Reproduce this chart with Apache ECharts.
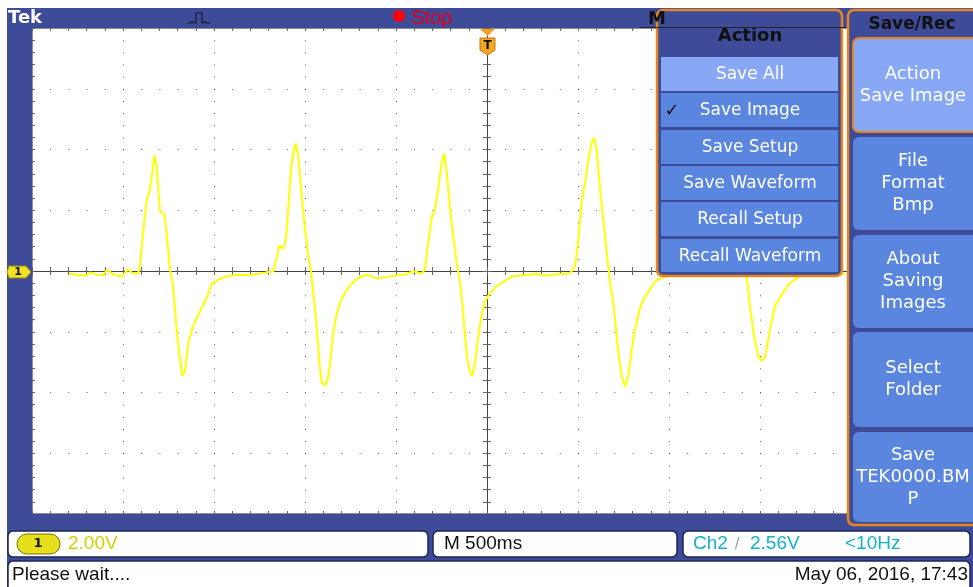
<!DOCTYPE html>
<html>
<head>
<meta charset="utf-8">
<script src="https://cdn.jsdelivr.net/npm/echarts@6/dist/echarts.min.js"></script>
<style>
  html, body { margin: 0; padding: 0; background: #fff; }
  #chart { width: 973px; height: 587px; }
</style>
</head>
<body>
<div id="chart"></div>
<script>
// ch1 trace: time from trigger (ms, 500 ms/div)
const times = [-2297, -2236, -2198, -2181, -2143, -2110, -2088, -2060, -2033, -2006,
  -1973, -1945, -1918, -1907, -1890, -1870, -1852, -1839, -1827, -1815,
  -1797, -1773, -1757, -1742, -1727, -1714, -1702, -1687, -1674, -1659,
  -1641, -1619, -1595, -1568, -1540, -1513, -1476, -1430, -1374, -1302,
  -1231, -1202, -1174, -1156, -1141, -1119, -1104, -1092, -1077, -1064,
  -1051, -1037, -1018, -1000, -982, -967, -954, -941, -932, -921,
  -908, -890, -876, -863, -846, -830, -808, -780, -753, -720,
  -687, -654, -606, -560, -496, -451, -405, -379, -359, -341,
  -323, -304, -286, -268, -249, -235, -221, -203, -185, -167,
  -148, -134, -121, -108, -93, -81, -66, -48, -29, -11,
  17, 53, 90, 136, 198, 264, 335, 401, 456, 484,
  502, 520, 539, 557, 575, 588, 603, 621, 639, 658,
  676, 694, 709, 724, 740, 758, 776, 795, 813, 841,
  868, 896, 923, 951, 989, 1060, 1143, 1225, 1258, 1280,
  1302, 1324, 1341, 1357, 1379, 1401, 1427, 1445, 1467, 1491,
  1509, 1528, 1555, 1582, 1619, 1665, 1720, 1757, 1830, 1967];
// volts (2.00 V/div)
const volts = [-0.08, -0.15, -0.13, -0.05, -0.12, -0.15, 0.03, -0.08, -0.16, -0.18,
  0.05, -0.08, -0.08, 0.15, 1.27, 2.32, 2.69, 3.25, 3.81, 3.45,
  1.97, 1.86, 1.04, 0.05, -0.39, -1.27, -2.15, -2.92, -3.44, -3.30,
  -2.37, -1.87, -1.54, -1.21, -0.88, -0.44, -0.28, -0.17, -0.12, -0.13,
  -0.07, -0.03, -0.02, 0.43, 0.84, 0.73, 1.09, 2.03, 3.34, 3.95,
  4.20, 3.78, 2.46, 1.37, 0.49, -0.01, -0.72, -1.49, -2.15, -3.02,
  -3.68, -3.77, -3.58, -3.11, -2.09, -1.53, -1.04, -0.71, -0.48, -0.28,
  -0.17, -0.12, -0.25, -0.21, -0.14, -0.12, -0.01, -0.05, -0.08, 0.05,
  0.93, 1.75, 2.03, 2.69, 3.57, 3.87, 3.24, 2.03, 1.15, 0.27,
  -0.39, -1.16, -2.15, -2.92, -3.35, -3.44, -3.02, -2.15, -1.43, -1.00,
  -0.72, -0.50, -0.37, -0.17, -0.14, -0.10, -0.15, -0.10, -0.08, 0.16,
  1.04, 2.25, 2.91, 3.67, 4.22, 4.39, 4.00, 2.69, 1.70, 0.60,
  -0.39, -1.05, -1.93, -2.81, -3.47, -3.82, -3.47, -2.59, -1.93, -1.21,
  -0.83, -0.61, -0.34, -0.25, -0.17, -0.13, -0.12, -0.08, 0.05, 1.04,
  2.36, 3.34, 4.00, 3.67, 2.36, 1.04, -0.17, -1.16, -2.15, -2.81,
  -2.97, -2.81, -1.93, -1.16, -0.77, -0.39, -0.17, -0.12, -0.10, -0.10];

const actionItems = ['Save All', 'Save Image', 'Save Setup', 'Save Waveform', 'Recall Setup', 'Recall Waveform'];
const sideButtons = [['Action', 'Save Image'], ['File', 'Format', 'Bmp'], ['About', 'Saving', 'Images'],
  ['Select', 'Folder'], ['Save', 'TEK0000.BM', 'P']];

const BLUE = '#3e4b98';
const ORANGE = '#e8861e';
const BTN = '#5a86e0';
const BTN_ON = '#88a8f6';
const MENU_FONT = '"DejaVu Sans", Verdana, sans-serif';
const STATUS_FONT = '"Liberation Sans", Arial, sans-serif';

const g = [];
function rect(x, y, w, h, fill, extra) {
  g.push(Object.assign({ type: 'rect', z: 100, shape: { x: x, y: y, width: w, height: h }, style: { fill: fill } }, extra || {}));
}
function text(x, y, t, font, fill, align, z) {
  g.push({ type: 'text', z: z || 110, style: { x: x, y: y, text: t, font: font, fill: fill,
    textAlign: align || 'center', textVerticalAlign: 'middle' } });
}

// scope frame
rect(7, 8, 966, 20, BLUE);
rect(7, 8, 25, 579, BLUE);
rect(7, 514, 966, 73, BLUE);
rect(942, 8, 31, 579, BLUE);

// top bar
text(8, 18, 'Tek', 'bold 18px ' + MENU_FONT, '#fff', 'left');
g.push({ type: 'polyline', z: 105, shape: { points: [[188, 23], [191, 23], [192, 21], [193, 23], [196, 23], [196, 13],
  [202, 13], [202, 23], [204, 23], [205, 21], [206, 23], [210, 23]] }, style: { stroke: '#111', lineWidth: 1, fill: null } });
g.push({ type: 'circle', z: 105, shape: { cx: 399, cy: 16, r: 6 }, style: { fill: '#ff0000' } });
text(411, 18, 'Stop', '20px ' + STATUS_FONT, '#e0001b', 'left');
text(648, 19, 'M', 'bold 18px ' + MENU_FONT, '#111', 'left');

// trigger position marker
g.push({ type: 'polygon', z: 105, shape: { points: [[480, 29], [495, 29], [487.5, 36]] }, style: { fill: '#f4a020' } });
g.push({ type: 'polygon', z: 105, shape: { points: [[480, 38], [495, 38], [495, 50], [487.5, 55], [480, 50]] },
  style: { fill: '#f5a623', stroke: '#c07810', lineWidth: 1 } });
text(487.5, 46, 'T', 'bold 12px ' + MENU_FONT, '#111');

// ch1 ground marker
g.push({ type: 'polygon', z: 105, shape: { points: [[9, 266], [26, 266], [31, 272], [26, 278], [9, 278], [7, 272]] },
  style: { fill: '#efe12a', stroke: '#9a8c00', lineWidth: 1 } });
text(18, 272, '1', 'bold 11px ' + MENU_FONT, '#111');

// action menu
rect(657, 10, 185, 266, BLUE, { style: { fill: BLUE, stroke: ORANGE, lineWidth: 2.5 }, shape: { x: 657, y: 10, width: 185, height: 266, r: 6 } });
text(750, 36, 'Action', 'bold 18px ' + MENU_FONT, '#111');
const itemTops = [57, 93, 130, 166, 202, 239];
actionItems.forEach(function (name, i) {
  const h = i === 5 ? 33 : 34;
  rect(661, itemTops[i], 177, h, i === 0 ? BTN_ON : BTN, { z: 101 });
  text(750, itemTops[i] + h / 2 + 1, name, '17px ' + MENU_FONT, '#fff');
});
text(672, 111, '\u2713', '18px ' + MENU_FONT, '#111');
g.push({ type: 'line', z: 120, shape: { x1: 640, y1: 27.5, x2: 846, y2: 27.5 }, style: { stroke: '#222', lineWidth: 1 } });

// side menu
rect(848, 10, 135, 515, BLUE, { style: { fill: BLUE, stroke: ORANGE, lineWidth: 2.5 }, shape: { x: 848, y: 10, width: 135, height: 515, r: 6 } });
text(912, 25, 'Save/Rec', 'bold 17px ' + MENU_FONT, '#111');
const btnRanges = [[38, 132], [137, 230], [235, 328], [332, 427], [432, 522]];
sideButtons.forEach(function (lines, i) {
  const top = btnRanges[i][0], bot = btnRanges[i][1];
  const extra = i === 0
    ? { z: 101, style: { fill: BTN_ON, stroke: ORANGE, lineWidth: 2 }, shape: { x: 853, y: top, width: 130, height: bot - top, r: 6 } }
    : { z: 101, style: { fill: BTN }, shape: { x: 853, y: top, width: 130, height: bot - top, r: 6 } };
  rect(853, top, 130, bot - top, BTN, extra);
  const mid = (top + bot) / 2;
  lines.forEach(function (s, k) {
    text(913, mid + (k - (lines.length - 1) / 2) * 22, s, '18px ' + MENU_FONT, '#fff');
  });
});

// status boxes
const box = { stroke: '#1c2454', lineWidth: 1.5 };
[[8, 531, 420, 26], [433, 531, 244, 26], [683, 531, 287, 26], [8, 561, 962, 32]].forEach(function (b) {
  rect(b[0], b[1], b[2], b[3], '#fff', { style: Object.assign({ fill: '#fff' }, box), shape: { x: b[0], y: b[1], width: b[2], height: b[3], r: 5 } });
});
rect(17, 534, 43, 20, '#e6e01c', { z: 105, style: { fill: '#e6e01c', stroke: '#7a6e00', lineWidth: 1 }, shape: { x: 17, y: 534, width: 43, height: 20, r: 10 } });
text(38, 544, '1', 'bold 13px ' + MENU_FONT, '#111');
text(68, 544, '2.00V', '19px ' + STATUS_FONT, '#d2d200', 'left');
text(444, 544, 'M 500ms', '19px ' + STATUS_FONT, '#111', 'left');
text(693, 544, 'Ch2', '19px ' + STATUS_FONT, '#14b2c6', 'left');
text(737, 544, '/', '17px ' + STATUS_FONT, '#9aa4aa', 'center');
text(750, 544, '2.56V', '19px ' + STATUS_FONT, '#14b2c6', 'left');
text(845, 544, '<10Hz', '19px ' + STATUS_FONT, '#14b2c6', 'left');
text(12, 575, 'Please wait....', '19px ' + STATUS_FONT, '#111', 'left');
text(968, 575, 'May 06, 2016, 17:43', '19px ' + STATUS_FONT, '#111', 'right');

const plot = { left: 32, top: 28, width: 910, height: 486 };
const tick = function (inside, len) { return { show: true, inside: inside, length: len, lineStyle: { color: '#666', width: 1 } }; };
const minor = function (len) { return { show: true, splitNumber: 5, length: len, lineStyle: { color: '#666', width: 1 } }; };
const xBase = { type: 'value', min: -2500, max: 2500, interval: 500, axisLabel: { show: false }, splitLine: { show: false } };
const yBase = { type: 'value', min: -8, max: 8, interval: 2, axisLabel: { show: false }, splitLine: { show: false } };
const centre = { show: true, onZero: true, lineStyle: { color: '#444', width: 1 } };
const edge = { show: false, onZero: false };

const chart = echarts.init(document.getElementById('chart'));
chart.setOption({
  animation: false,
  backgroundColor: '#fff',
  grid: [
    Object.assign({ show: true, backgroundColor: '#fff', borderColor: '#222', borderWidth: 1 }, plot),
    Object.assign({}, plot),
    Object.assign({}, plot)
  ],
  xAxis: [
    Object.assign({}, xBase, { gridIndex: 0, axisLine: centre, axisTick: tick(false, 4), minorTick: minor(4),
      splitLine: { show: true, lineStyle: { color: '#666', width: 1, type: [1, 11.15] } } }),
    Object.assign({}, xBase, { gridIndex: 1, axisLine: centre, axisTick: tick(true, 4), minorTick: minor(4) }),
    Object.assign({}, xBase, { gridIndex: 2, position: 'top', axisLine: edge, axisTick: tick(true, 3), minorTick: minor(3) }),
    Object.assign({}, xBase, { gridIndex: 2, position: 'bottom', axisLine: edge, axisTick: tick(true, 3), minorTick: minor(3) })
  ],
  yAxis: [
    Object.assign({}, yBase, { gridIndex: 0, axisLine: centre, axisTick: tick(false, 4), minorTick: minor(4),
      splitLine: { show: true, lineStyle: { color: '#666', width: 1, type: [1, 17.2] } } }),
    Object.assign({}, yBase, { gridIndex: 1, axisLine: centre, axisTick: tick(true, 4), minorTick: minor(4) }),
    Object.assign({}, yBase, { gridIndex: 2, position: 'left', axisLine: edge, axisTick: tick(true, 3), minorTick: minor(3) }),
    Object.assign({}, yBase, { gridIndex: 2, position: 'right', axisLine: edge, axisTick: tick(true, 3), minorTick: minor(3) })
  ],
  series: [{
    name: 'CH1',
    type: 'line',
    xAxisIndex: 0,
    yAxisIndex: 0,
    data: times.map(function (t, i) { return [t, volts[i]]; }),
    symbol: 'none',
    silent: true,
    z: 5,
    lineStyle: { color: '#ffff00', width: 2 }
  }],
  graphic: { elements: g }
});
</script>
</body>
</html>
